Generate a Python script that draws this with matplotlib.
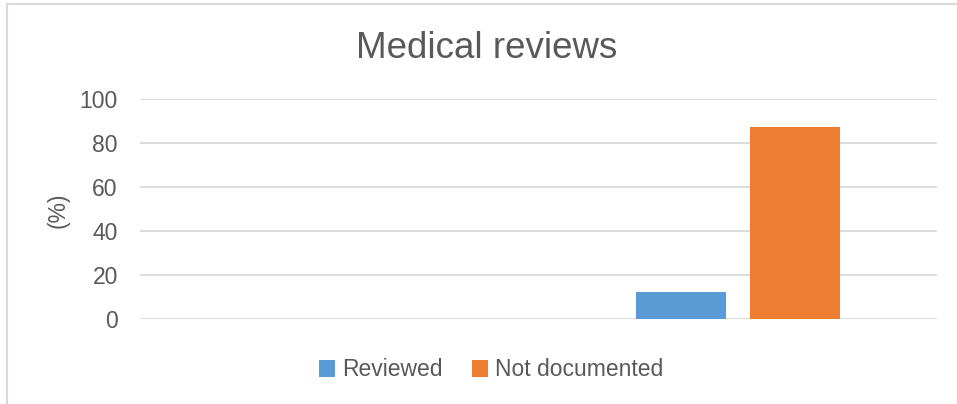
import matplotlib
matplotlib.use('Agg')
import matplotlib.pyplot as plt
import numpy as np
from matplotlib.lines import Line2D

# data
categories = ["", ""]
series = ["Reviewed", "Not documented"]
reviewed = [0, 12.5]
not_documented = [0, 87.5]
yticks = [0, 20, 40, 60, 80, 100]

blue = '#5B9BD5'
orange = '#ED7D31'
txt = '#595959'
grid = '#D9D9D9'

plt.rcParams['font.family'] = ['Liberation Sans', 'DejaVu Sans']

W, H = 957, 404
fig = plt.figure(figsize=(W / 100, H / 100), dpi=100)
ax = fig.add_axes([140 / W, 1 - 319.3 / H, (937 - 140) / W, 220 / H])

x = np.arange(len(categories))
bw = 0.226
ax.bar(x - 0.1425, reviewed, bw, color=blue, linewidth=0, label=series[0], zorder=3)
ax.bar(x + 0.1435, not_documented, bw, color=orange, linewidth=0, label=series[1], zorder=3)

ax.set_xlim(-0.5, 1.5)
ax.set_ylim(0, 100)
ax.set_yticks(yticks)
ax.set_xticks([])
ax.yaxis.grid(True, color=grid, linewidth=1.3, zorder=0)
for s in ax.spines.values():
    s.set_visible(False)
ax.tick_params(axis='y', length=0, pad=16, labelsize=16.5, labelcolor=txt)

fig.text(58 / W, 1 - 210 / H, '(%)', rotation=90, ha='center', va='center',
         fontsize=16.5, color=txt)
fig.text(487 / W, 1 - 58 / H, 'Medical reviews', ha='center', va='baseline',
         fontsize=26.5, color=txt)

handles, labels = ax.get_legend_handles_labels()
fig.legend(handles, labels, loc='center', bbox_to_anchor=(491 / W, 1 - 370 / H),
           ncol=2, frameon=False, fontsize=16.5, labelcolor=txt,
           handlelength=0.7, handleheight=0.7, handletextpad=0.3, columnspacing=1.3)

# chart area border (left and top edges visible)
fig.add_artist(Line2D([7.5 / W, 7.5 / W], [0, 1 - 3.5 / H], color=grid, linewidth=1.5))
fig.add_artist(Line2D([7.5 / W, 1], [1 - 3.5 / H, 1 - 3.5 / H], color=grid, linewidth=1.5))

fig.savefig('out.png', dpi=100)
